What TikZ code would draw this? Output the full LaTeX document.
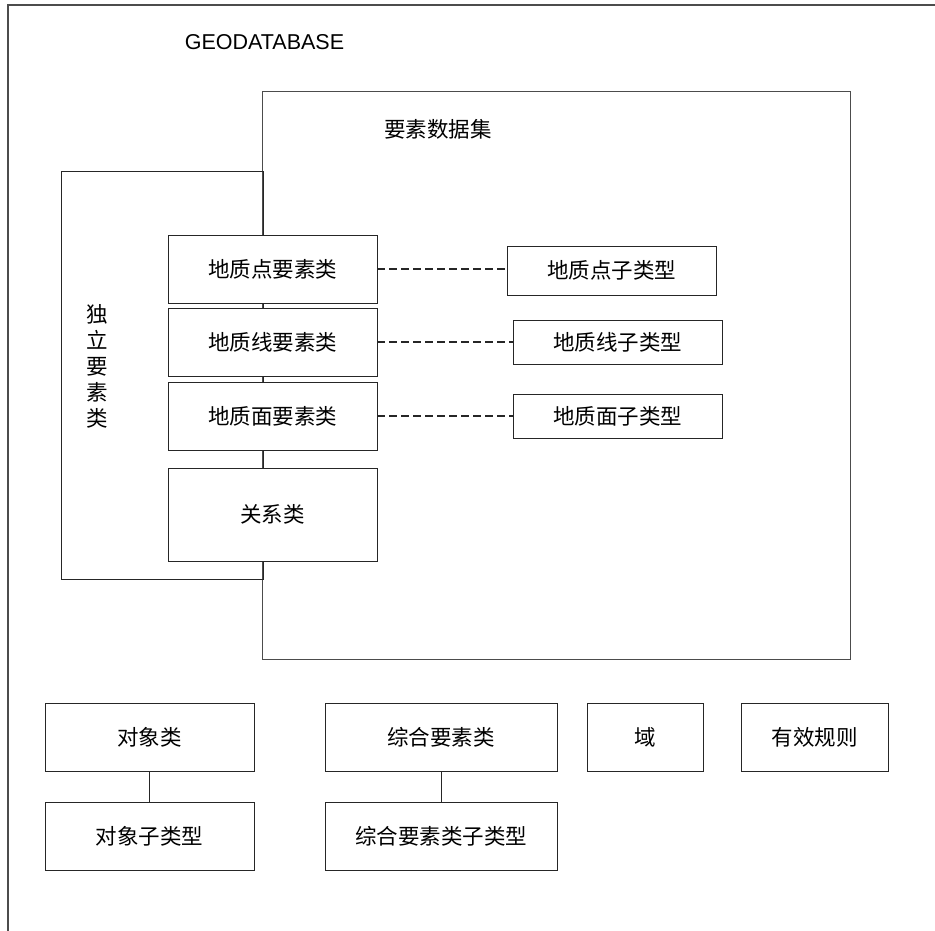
\documentclass[tikz,border=0pt]{standalone}
\usepackage{fontspec}
\setmainfont{Liberation Sans}
\newfontfamily\cjk{Noto Sans CJK SC}
\usetikzlibrary{positioning,calc}

\begin{document}
\begin{tikzpicture}[x=1pt,y=-1pt,line width=1pt,
	box/.style={draw=black!85,fill=white,outer sep=0pt,inner sep=0pt,minimum width=209pt,minimum height=68pt,font=\cjk\fontsize{21.5}{26}\selectfont},
	sub/.style={box,minimum height=44pt},
	link/.style={draw=black!85,dash pattern=on 8pt off 4pt,line width=1.4pt},
	frame/.style={draw=black!70}]
	\useasboundingbox (0,0) rectangle (935,931);
	% outer geodatabase frame
	\draw[frame,line width=1.3pt] (8,931) -- (8,5) -- (935,5);
	\node[anchor=west,font=\fontsize{21.5}{25}\selectfont] (GDB) at (181,42) {GEODATABASE};
	% feature dataset and stand-alone classes
	\node[frame,outer sep=0pt,minimum width=588pt,minimum height=567pt] (DS) at (556,375.5) {};
	\node[font=\cjk\fontsize{21.5}{26}\selectfont] (DSL) at (438,129) {要素数据集};
	\node[draw=black!85,outer sep=0pt,minimum width=202pt,minimum height=407pt] (IND) at (162,375.5) {};
	\node[align=center,font=\cjk\fontsize{21.5}{26}\selectfont] (INDL) at (97,366) {独\\立\\要\\素\\类};
	\node[box] (PT) at (272.5,269) {地质点要素类};
	\node[box] (LN) at (272.5,342) {地质线要素类};
	\node[box] (PG) at (272.5,416) {地质面要素类};
	\node[box,minimum height=93pt] (REL) at (272.5,514.5) {关系类};
	\node[sub,minimum height=49pt] (PTS) at (611.5,270.5) {地质点子类型};
	\node[sub] (LNS) at (617.5,342) {地质线子类型};
	\node[sub] (PGS) at (617.5,416) {地质面子类型};
	\draw[link] (PT.east) -- (PT.east -| PTS.west);
	\draw[link] (LN.east) -- (LNS.west);
	\draw[link] (PG.east) -- (PGS.west);
	% bottom row
	\node[box] (OBJ) at (149.5,737) {对象类};
	\node[box] (OBJS) at (149.5,836) {对象子类型};
	\node[box,minimum width=232pt] (CMP) at (441,737) {综合要素类};
	\node[box,minimum width=232pt] (CMPS) at (441,836) {综合要素类子类型};
	\node[box,minimum width=116pt] (DOM) at (645,737) {域};
	\node[box,minimum width=147pt] (RUL) at (814.5,737) {有效规则};
	\draw[black!85] (OBJ) -- (OBJS);
	\draw[black!85] (CMP) -- (CMPS);
\end{tikzpicture}
\end{document}
